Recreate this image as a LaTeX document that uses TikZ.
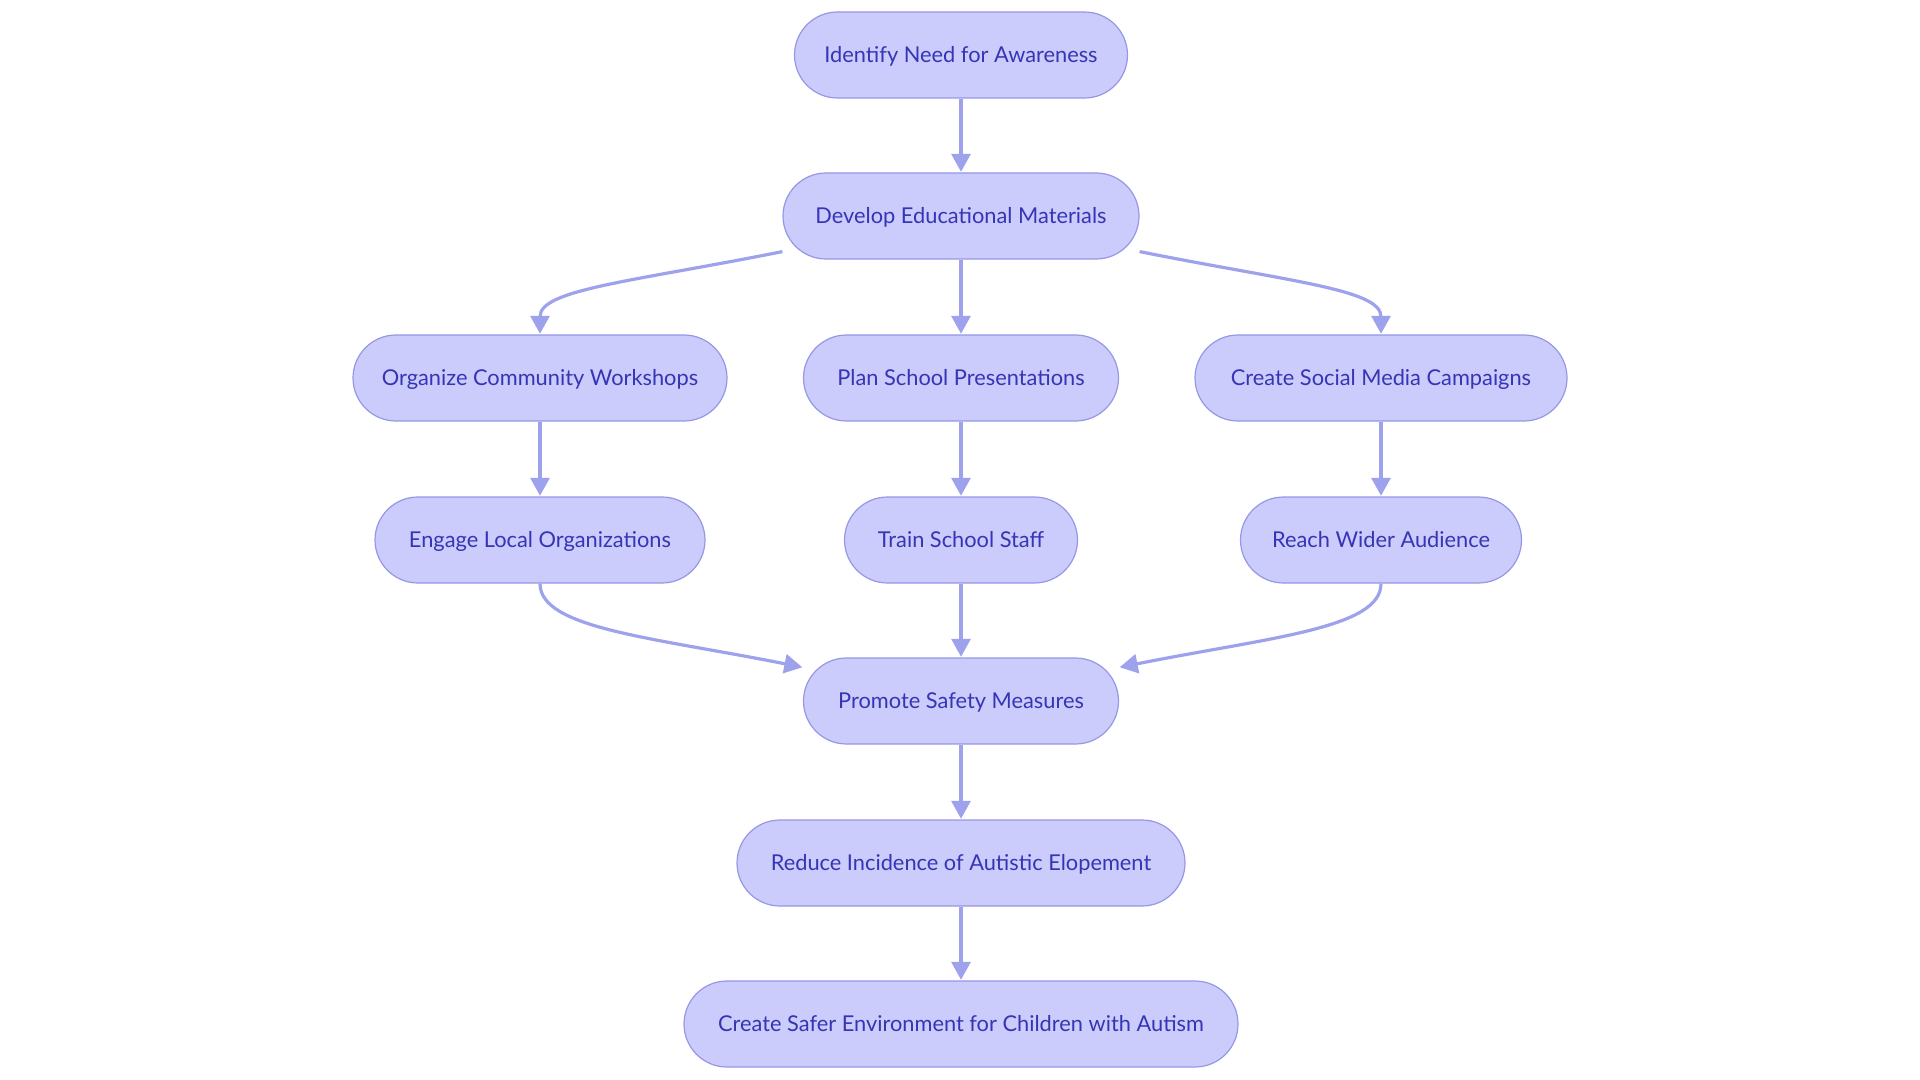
\documentclass[tikz,border=0pt]{standalone}
\usepackage{fontspec}
\setmainfont{Lato}
\usetikzlibrary{arrows.meta}
\definecolor{boxfill}{RGB}{203,203,252}
\definecolor{boxline}{RGB}{150,152,228}
\definecolor{boxtext}{RGB}{53,53,181}
\definecolor{linkcol}{RGB}{158,162,236}
\tikzset{
    stadium/.style={draw=boxline, fill=boxfill, text=boxtext, line width=0.6pt,
        rounded corners=21.5pt, minimum height=43pt, inner sep=0pt,
        text height=7.8pt, text depth=0pt,
        font=\fontsize{10.9}{12}\selectfont},
    link/.style={draw=linkcol, line width=1.6pt,
        -{Triangle[width=9.5pt,length=9pt]}, shorten >=0.3pt}
}
\begin{document}
\begin{tikzpicture}[x=0.5pt, y=-0.5pt]
    \useasboundingbox (0,0) rectangle (1920,1080);
    % Main column
    \node[stadium, minimum width=166.5pt] (need) at (961,55) {Identify Need for Awareness};
    \node[stadium, minimum width=178pt] (develop) at (961,216) {Develop Educational Materials};
    % Three branches
    \node[stadium, minimum width=187pt] (workshops) at (540,378) {Organize Community Workshops};
    \node[stadium, minimum width=157.5pt] (school) at (961,378) {Plan School Presentations};
    \node[stadium, minimum width=186pt] (social) at (1381,378) {Create Social Media Campaigns};
    \node[stadium, minimum width=165pt] (local) at (540,540) {Engage Local Organizations};
    \node[stadium, minimum width=116.5pt] (staff) at (961,540) {Train School Staff};
    \node[stadium, minimum width=140.5pt] (audience) at (1381,540) {Reach Wider Audience};
    % Joining again
    \node[stadium, minimum width=157.5pt] (safety) at (961,701) {Promote Safety Measures};
    \node[stadium, minimum width=224pt] (reduce) at (961,863) {Reduce Incidence of Autistic Elopement};
    \node[stadium, minimum width=277pt] (safer) at (961,1024) {Create Safer Environment for Children with Autism};

    % Straight links
    \foreach \a/\b in {need/develop, develop/school, workshops/local, school/staff,
                       social/audience, staff/safety, safety/reduce, reduce/safer}{
        \draw[link] (\a.south) -- (\b.north);
    }
    % Curved links
    \draw[link] ([yshift=4pt]develop.south west) .. controls +(-150,30) and +(0,-45) .. (workshops.north);
    \draw[link] ([yshift=4pt]develop.south east) .. controls +(150,30) and +(0,-45) .. (social.north);
    \draw[link] (local.south) .. controls +(0,45) and +(-150,-30) .. ([yshift=-5pt]safety.north west);
    \draw[link] (audience.south) .. controls +(0,45) and +(150,-30) .. ([yshift=-5pt]safety.north east);
\end{tikzpicture}
\end{document}
